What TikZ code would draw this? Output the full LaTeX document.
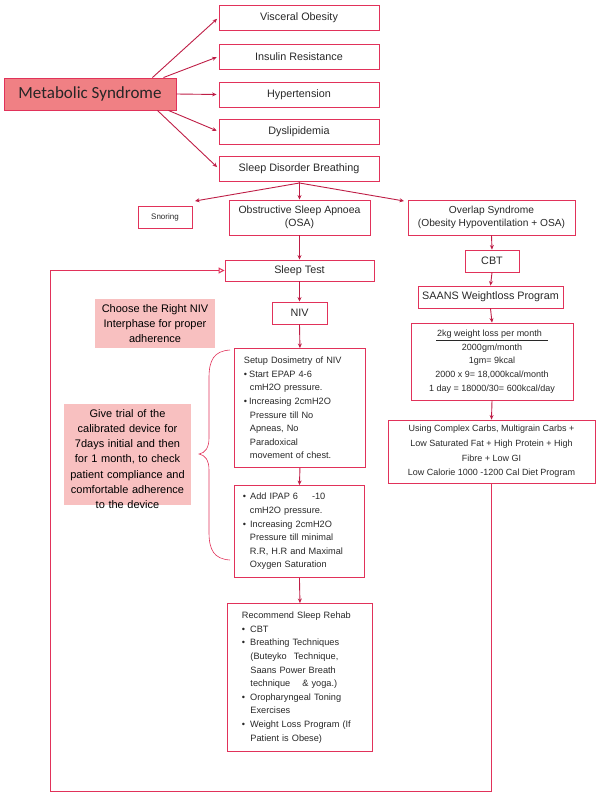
\documentclass[tikz,border=0pt]{standalone}
\usepackage{fontspec}
\setmainfont{Liberation Sans}
\newfontfamily\calfont{Carlito}
\usetikzlibrary{arrows.meta,calc}
\definecolor{bdr}{RGB}{225,50,90}
\definecolor{arr}{RGB}{190,30,70}
\definecolor{msfill}{RGB}{240,128,132}
\definecolor{pinkfill}{RGB}{248,192,192}
\definecolor{txt}{RGB}{40,40,40}
\begin{document}
\begin{tikzpicture}[x=1pt,y=-1pt,
  box/.style={draw=bdr,line width=0.9pt,inner sep=0pt,align=center,text=txt,
    font=\fontsize{10.8}{13.5}\selectfont},
  smallbox/.style={draw=bdr,line width=0.9pt,inner sep=0pt,text=txt,
    font=\fontsize{9.2}{13.6}\selectfont},
  note/.style={fill=pinkfill,inner sep=0pt,align=center,text=black,
    font=\fontsize{11}{15.3}\selectfont},
  con/.style={draw=arr,line width=0.9pt,-{Stealth[length=4.5pt,width=4pt]}},
]
\useasboundingbox (0,0) rectangle (600,793);
% left column
\node[draw=bdr,line width=0.9pt,fill=msfill,minimum width=172pt,minimum height=32pt,inner sep=0pt,font=\calfont\fontsize{17}{20}\selectfont,text=black!85] (ms) at (90,94) {Metabolic Syndrome};
\node[box,minimum width=160pt,minimum height=25pt] (vo) at (299,17.5) {Visceral Obesity};
\node[box,minimum width=160pt,minimum height=25pt] (ir) at (299,56.5) {Insulin Resistance};
\node[box,minimum width=160pt,minimum height=25pt] (hy) at (299,94.5) {Hypertension};
\node[box,minimum width=160pt,minimum height=25pt] (dy) at (299,131.5) {Dyslipidemia};
\node[box,minimum width=160pt,minimum height=25pt] (sdb) at (299,168.5) {Sleep Disorder Breathing};
\draw[con,shorten >=2pt] ([xshift=-24pt]ms.north east) -- (vo.west);
\draw[con,shorten >=2pt] ([xshift=-13pt]ms.north east) -- (ir.west);
\draw[con,shorten >=2pt] (ms.east) -- (hy.west);
\draw[con,shorten >=2pt] ([xshift=-8pt]ms.south east) -- (dy.west);
\draw[con,shorten >=2pt] ([xshift=-19pt]ms.south east) -- (sdb.west);
% second level
\node[box,font=\fontsize{8}{10}\selectfont,minimum width=54pt,minimum height=22pt] (sn) at (165,217) {Snoring};
\node[box,font=\fontsize{10.5}{13.5}\selectfont,minimum width=141pt,minimum height=35pt] (osa) at (299.5,217.5) {Obstructive Sleep Apnoea\\(OSA)};
\node[box,font=\fontsize{10.2}{13.5}\selectfont,minimum width=167pt,minimum height=35pt] (ovl) at (491.5,217.5) {Overlap Syndrome\\(Obesity Hypoventilation + OSA)};
\coordinate (br) at (299.5,183);
\coordinate (lft) at (195,201);
\coordinate (rgt) at (404,201);
\draw[draw=arr,line width=0.9pt] (sdb.south) -- (br);
\draw[con] (br) -- (lft);
\draw[con] (br) -- (rgt);
\draw[con] (br) -- (osa.north);
% OSA column
\node[box,minimum width=149pt,minimum height=21pt] (st) at (299.5,270.5) {Sleep Test};
\node[box,minimum width=55pt,minimum height=22pt] (niv) at (299.5,313) {NIV};
\node[smallbox,minimum width=131pt,minimum height=119pt,anchor=north west,align=left,text width=112pt,inner xsep=9pt,inner ysep=4pt] (setup) at (234,348) {Setup Dosimetry of NIV\\
•\hspace{2pt}Start EPAP 4-6\\
\hspace*{6pt}cmH2O pressure.\\
•\hspace{2pt}Increasing 2cmH2O\\
\hspace*{6pt}Pressure till No\\
\hspace*{6pt}Apneas, No\\
\hspace*{6pt}Paradoxical\\
\hspace*{6pt}movement of chest.};
\node[smallbox,minimum width=130pt,minimum height=92pt,anchor=north west,align=left,text width=113pt,inner xsep=8pt,inner ysep=4pt] (ipap) at (234,485) {•\hspace{4pt}Add IPAP 6\hspace{14pt}-10\\
\hspace*{7pt}cmH2O pressure.\\
•\hspace{4pt}Increasing 2cmH2O\\
\hspace*{7pt}Pressure till minimal\\
\hspace*{7pt}R.R, H.R and Maximal\\
\hspace*{7pt}Oxygen Saturation};
\node[smallbox,minimum width=145pt,minimum height=148pt,anchor=north west,align=left,text width=116pt,inner xsep=14pt,inner ysep=6pt] (rehab) at (227,603) {Recommend Sleep Rehab\\
•\hspace{5pt}CBT\\
•\hspace{5pt}Breathing Techniques\\
\hspace*{8.5pt}(Buteyko\hspace{4pt} Technique,\\
\hspace*{8.5pt}Saans Power Breath\\
\hspace*{8.5pt}technique\hspace{9pt} \& yoga.)\\
•\hspace{5pt}Oropharyngeal Toning\\
\hspace*{8.5pt}Exercises\\
•\hspace{5pt}Weight Loss Program (If\\
\hspace*{8.5pt}Patient is Obese)};
\draw[con] (osa.south) -- (st.north);
\draw[con] (st.south) -- (niv.north);
\draw[con] (niv.south) -- (setup.north);
\draw[con] (setup.south) -- (ipap.north);
\draw[con] (ipap.south) -- (rehab.north);
% notes
\node[note,minimum width=120pt,minimum height=49pt] (choose) at (155,323.5) {Choose the Right NIV\\Interphase for proper\\adherence};
\fill[pinkfill] (64,404) rectangle (191,505);
\node[note,fill=none,text width=127pt] (give) at (127.5,459) {Give trial of the\\calibrated device for\\7days initial and then\\for 1 month, to check\\patient compliance and\\comfortable adherence\\to the device};
\draw[bdr,line width=0.6pt] (230,350) .. controls (214,351) and (209,360) .. (209,378) -- (209,438) .. controls (209,448) and (205,453) .. (199,454) .. controls (205,455) and (209,460) .. (209,470) -- (209,532) .. controls (209,550) and (214,559) .. (230,560);
% overlap column
\node[box,minimum width=54pt,minimum height=22pt] (cbt) at (492,261) {CBT};
\node[box,minimum width=145pt,minimum height=22pt] (saans) at (490.5,297) {SAANS Weightloss Program};
\node[box,font=\fontsize{9}{13.7}\selectfont,minimum width=162pt,minimum height=77pt] (kg) at (492,361.5) {\underline{\hspace{1pt}2kg weight loss per month\hspace{6pt}}\\2000gm/month\\1gm= 9kcal\\2000 x 9= 18,000kcal/month\\1 day = 18000/30= 600kcal/day};
\node[box,font=\fontsize{9}{14.6}\selectfont,minimum width=207pt,minimum height=63pt] (diet) at (491.5,451.5) {Using Complex Carbs, Multigrain Carbs +\\Low Saturated Fat + High Protein + High\\Fibre + Low GI\\Low Calorie 1000 -1200 Cal Diet Program};
\draw[con] (ovl.south) -- (cbt.north);
\draw[con] (cbt.south) -- (saans.north);
\draw[con] (saans.south) -- (kg.north);
\draw[con] (kg.south) -- (diet.north);
% feedback loop
\coordinate (lb) at (50,791);
\draw[draw=bdr,line width=1pt,-{Triangle[open,length=6pt,width=6pt]}] (diet.south) |- (lb) |- (st.west);
\end{tikzpicture}
\end{document}
